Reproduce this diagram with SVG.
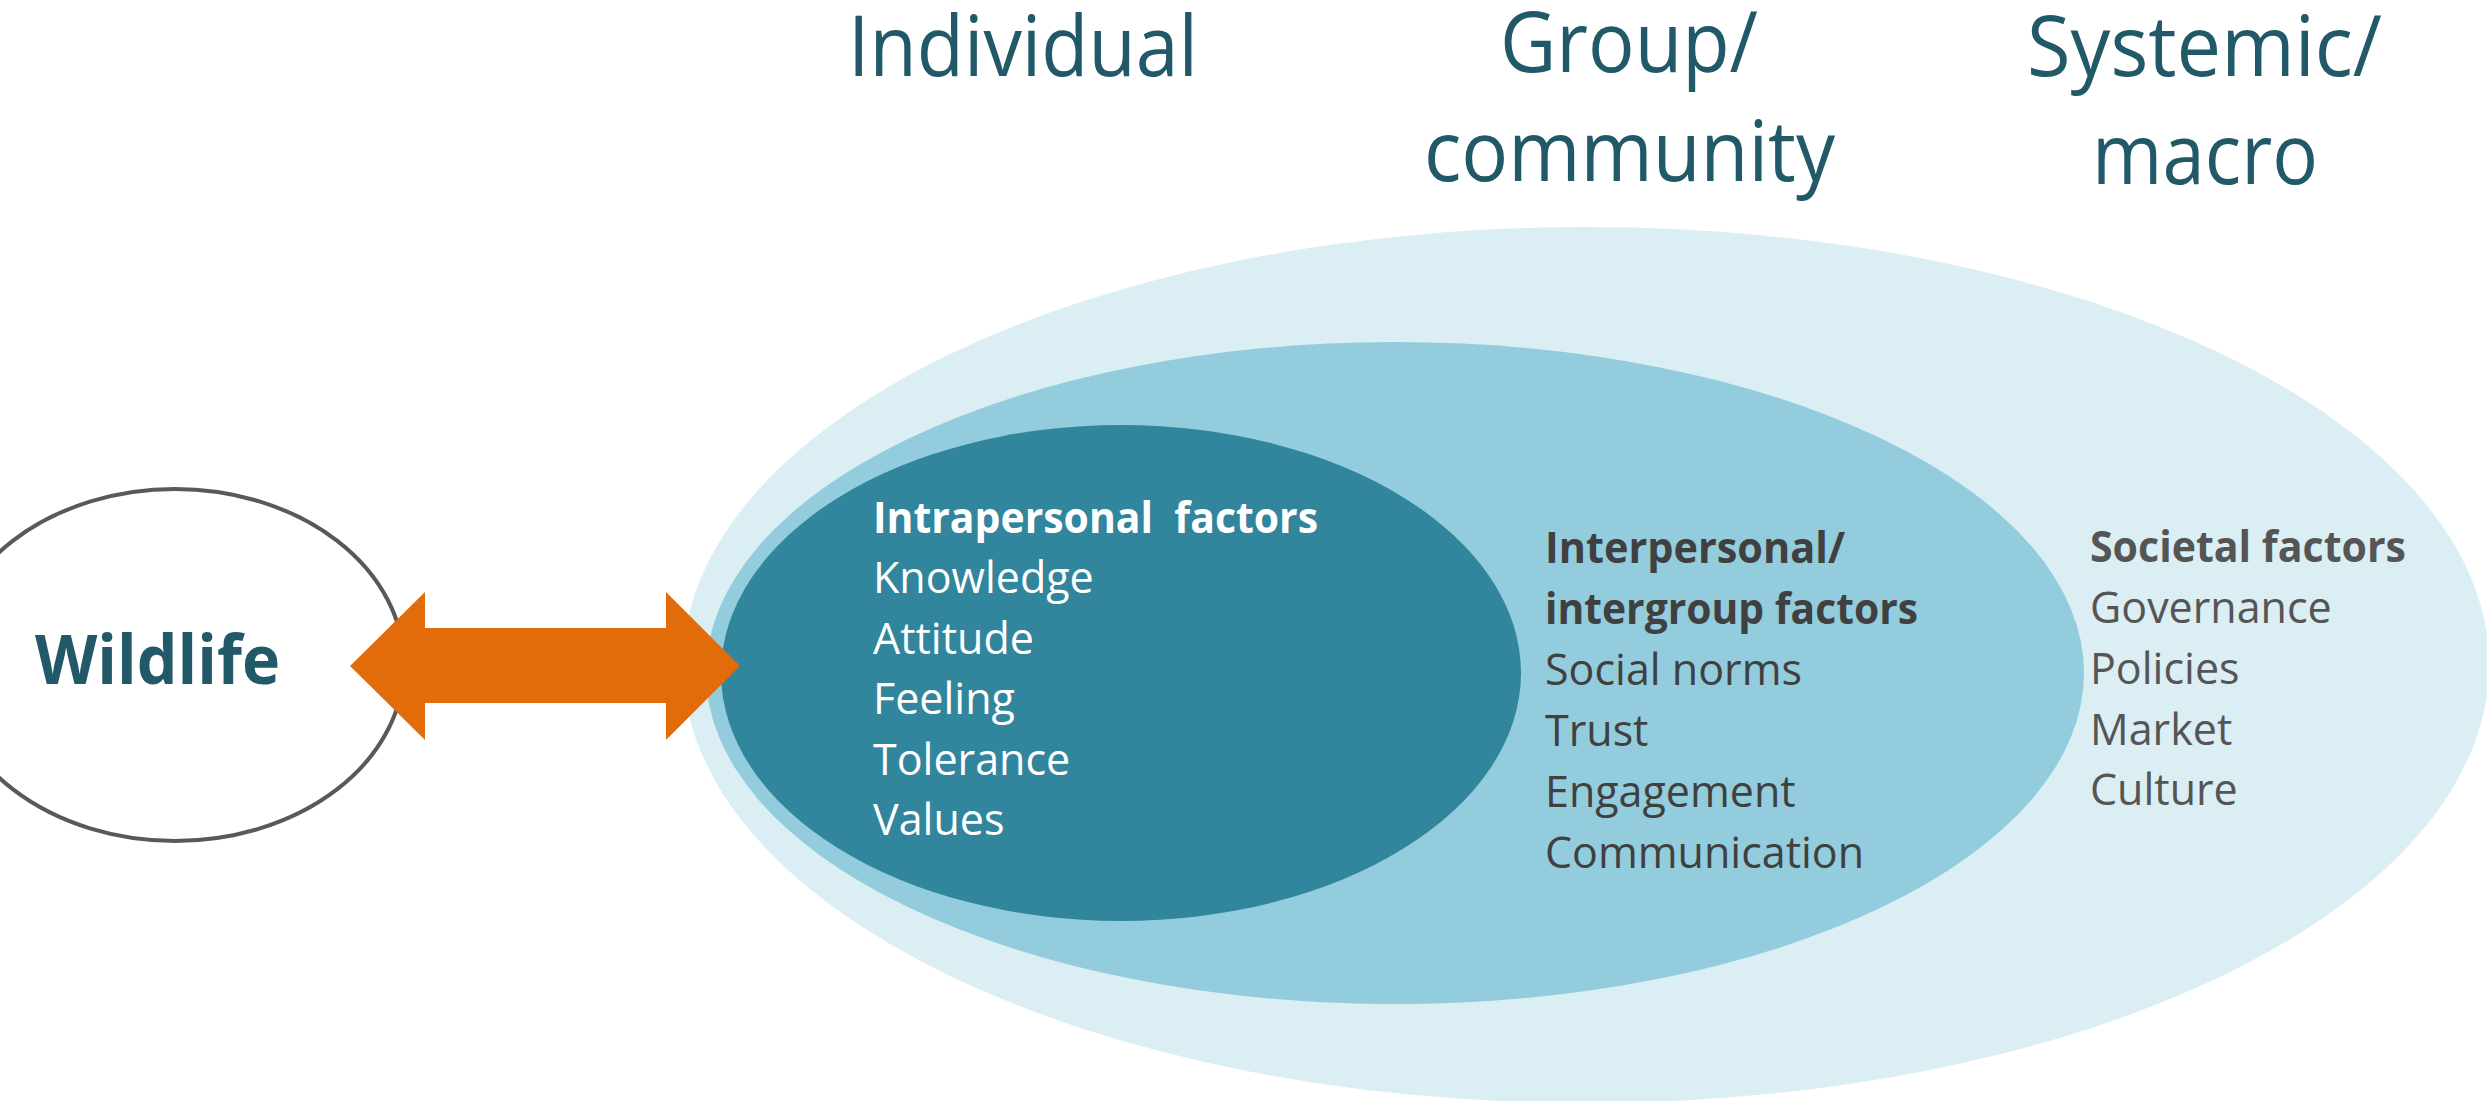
<svg xmlns="http://www.w3.org/2000/svg" width="2487" height="1101" viewBox="0 0 2487 1101">
  <style>
    .head { font-family: "Open Sans", "Noto Sans", "Liberation Sans", sans-serif; font-size: 85px; font-weight: 400; fill: #215968; }
    .body { font-family: "Open Sans", "Noto Sans", "Liberation Sans", sans-serif; font-size: 43px; }
    .bold { font-weight: 700; }
    .white { fill: #FFFFFF; }
    .dark { fill: #404040; }
    .grey { fill: #555555; }
  </style>

  <rect width="2487" height="1101" fill="#FFFFFF"/>

  <!-- level headings -->
  <g id="headings">
    <text class="head" x="848" y="76" textLength="350" lengthAdjust="spacingAndGlyphs">Individual</text>
    <text class="head" x="1500" y="72" textLength="258" lengthAdjust="spacingAndGlyphs">Group/</text>
    <text class="head" x="1424" y="181" textLength="411" lengthAdjust="spacingAndGlyphs">community</text>
    <text class="head" x="2027" y="76" textLength="355" lengthAdjust="spacingAndGlyphs">Systemic/</text>
    <text class="head" x="2092" y="184" textLength="226" lengthAdjust="spacingAndGlyphs">macro</text>
  </g>

  <!-- systemic / macro level -->
  <g id="node-societal">
    <ellipse cx="1586" cy="665" rx="903" ry="438" fill="#DAEEF3"/>
  </g>

  <!-- group / community level -->
  <g id="node-interpersonal">
    <ellipse cx="1395" cy="673" rx="689" ry="331" fill="#93CDDD"/>
  </g>

  <!-- individual level -->
  <g id="node-intrapersonal">
    <ellipse cx="1121" cy="673" rx="400" ry="248" fill="#31859C"/>
    <text class="body bold white" x="873" y="533" textLength="445" lengthAdjust="spacingAndGlyphs" xml:space="preserve">Intrapersonal  factors</text>
    <text class="body white" x="873" y="593">Knowledge</text>
    <text class="body white" x="873" y="654">Attitude</text>
    <text class="body white" x="873" y="714">Feeling</text>
    <text class="body white" x="873" y="775">Tolerance</text>
    <text class="body white" x="873" y="835">Values</text>
  </g>

  <g id="node-interpersonal-labels">
    <text class="body bold dark" x="1545" y="563" textLength="300" lengthAdjust="spacingAndGlyphs">Interpersonal/</text>
    <text class="body bold dark" x="1545" y="624" textLength="373" lengthAdjust="spacingAndGlyphs">intergroup factors</text>
    <text class="body dark" x="1545" y="685">Social norms</text>
    <text class="body dark" x="1545" y="746">Trust</text>
    <text class="body dark" x="1545" y="807">Engagement</text>
    <text class="body dark" x="1545" y="868">Communication</text>
  </g>

  <g id="node-societal-labels">
    <text class="body bold grey" x="2090" y="562" textLength="316" lengthAdjust="spacingAndGlyphs">Societal factors</text>
    <text class="body grey" x="2090" y="623">Governance</text>
    <text class="body grey" x="2090" y="684">Policies</text>
    <text class="body grey" x="2090" y="745">Market</text>
    <text class="body grey" x="2090" y="805">Culture</text>
  </g>

  <!-- wildlife -->
  <g id="node-wildlife">
    <ellipse cx="175" cy="665" rx="229" ry="176" fill="#FFFFFF" stroke="#595959" stroke-width="4"/>
    <text x="35" y="684" textLength="245" lengthAdjust="spacingAndGlyphs" font-family="'Open Sans', 'Noto Sans', 'Liberation Sans', sans-serif" font-size="68" font-weight="700" fill="#215968">Wildlife</text>
  </g>

  <!-- two-way interaction arrow -->
  <g id="connectors">
    <polygon fill="#E36C0A" points="350,666 425,592 425,628 666,628 666,592 740,666 666,740 666,703 425,703 425,740"/>
  </g>
</svg>
